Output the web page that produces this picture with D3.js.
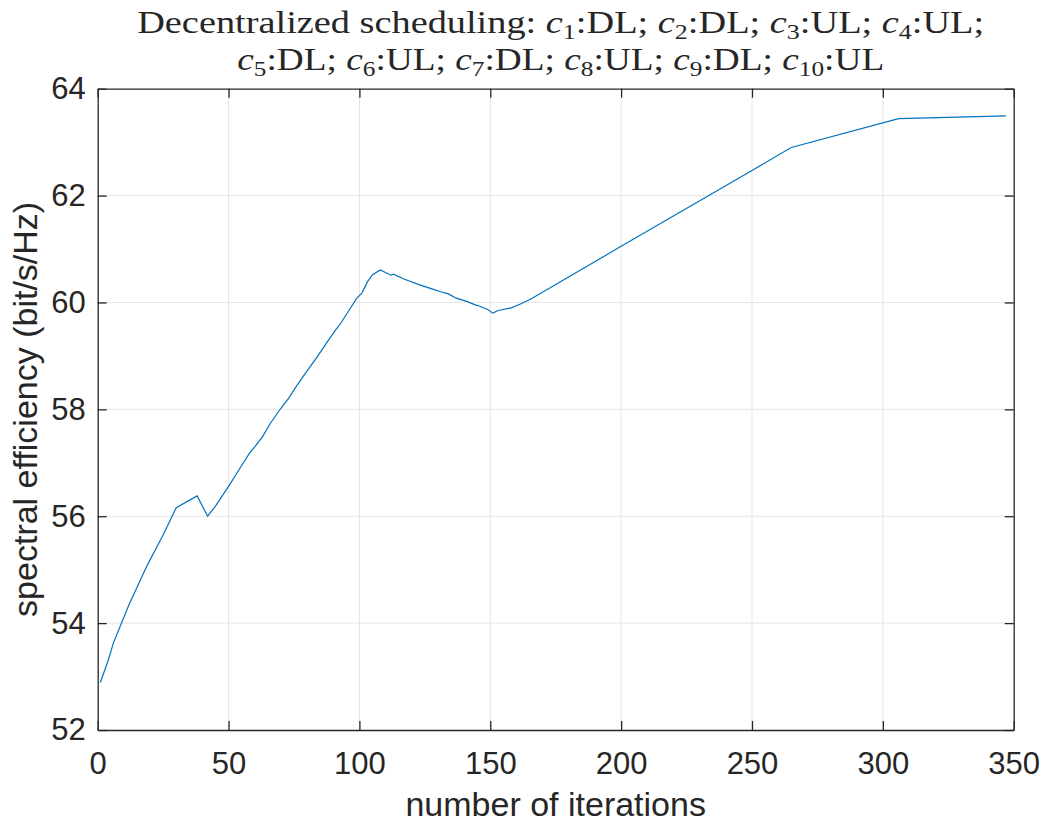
<!DOCTYPE html>
<html>
<head>
<meta charset="utf-8">
<script src="https://cdn.jsdelivr.net/npm/d3@7"></script>
<style>
  body { margin: 0; background: #fff; }
  text { fill: #262626; }
</style>
</head>
<body>
<div id="chart"></div>
<script>
// iterations and spectral efficiency
var iterations = [1, 4, 6, 12, 19, 25, 30, 38, 42, 45, 50, 54, 58, 60, 63, 66, 70, 73, 76, 79,
  84, 88, 91, 93, 96, 99, 101, 103, 105, 108, 110, 112, 113, 117, 123, 128, 131, 134, 137,
  141, 144, 146, 149, 151, 153, 158, 162, 166, 200, 250, 265, 306, 347]
var efficiency = [52.89, 53.30, 53.63, 54.35, 55.09, 55.65, 56.16, 56.38, 56.00, 56.19, 56.56,
  56.87, 57.18, 57.30, 57.49, 57.74, 58.02, 58.21, 58.44, 58.65, 58.99, 59.28, 59.49, 59.62,
  59.85, 60.08, 60.18, 60.38, 60.52, 60.61, 60.56, 60.51, 60.53, 60.44, 60.33, 60.25, 60.20,
  60.16, 60.08, 60.02, 59.96, 59.93, 59.87, 59.80, 59.85, 59.90, 59.98, 60.08, 61.05, 62.47,
  62.90, 63.44, 63.49]
var xTicks = [0, 50, 100, 150, 200, 250, 300, 350]
var yTicks = [52, 54, 56, 58, 60, 62, 64]

var width = 1044
    height = 831
    margin = {top: 88.7, right: 30.3, bottom: 101, left: 97.7}
var innerW = width - margin.left - margin.right
var innerH = height - margin.top - margin.bottom

var svg = d3.select("#chart")
  .append("svg")
    .attr("width", width)
    .attr("height", height)

var g = svg.append("g")
  .attr("transform", "translate(" + margin.left + "," + margin.top + ")")

var x = d3.scaleLinear().domain([0, 350]).range([0, innerW])
var y = d3.scaleLinear().domain([52, 64]).range([innerH, 0])

// grid
g.selectAll("xGrid")
  .data(xTicks.slice(1, -1))
  .enter()
  .append("line")
    .attr("x1", function(d){ return x(d) }).attr("x2", function(d){ return x(d) })
    .attr("y1", 0).attr("y2", innerH)
    .attr("stroke", "#e5e5e5").attr("stroke-width", 1)
g.selectAll("yGrid")
  .data(yTicks.slice(1, -1))
  .enter()
  .append("line")
    .attr("y1", function(d){ return y(d) }).attr("y2", function(d){ return y(d) })
    .attr("x1", 0).attr("x2", innerW)
    .attr("stroke", "#e5e5e5").attr("stroke-width", 1)

// the curve
var line = d3.line()
  .x(function(d, i){ return x(iterations[i]) })
  .y(function(d){ return y(d) })
g.append("path")
  .datum(efficiency)
  .attr("d", line)
  .attr("fill", "none")
  .attr("stroke", "#0072BD")
  .attr("stroke-width", 1.2)

// axes, ticks inward like matlab
var tickLen = 9
var xBottom = d3.axisBottom(x).tickValues(xTicks).tickSizeInner(-tickLen).tickSizeOuter(0).tickPadding(22)
var xTop = d3.axisTop(x).tickValues(xTicks).tickSizeInner(-tickLen).tickSizeOuter(0).tickFormat("")
var yLeft = d3.axisLeft(y).tickValues(yTicks).tickSizeInner(-tickLen).tickSizeOuter(0).tickPadding(12)
var yRight = d3.axisRight(y).tickValues(yTicks).tickSizeInner(-tickLen).tickSizeOuter(0).tickFormat("")

var axes = [
  g.append("g").attr("transform", "translate(0," + innerH + ")").call(xBottom),
  g.append("g").call(xTop),
  g.append("g").call(yLeft),
  g.append("g").attr("transform", "translate(" + innerW + ",0)").call(yRight)
]
axes.forEach(function(a) {
  a.select(".domain").attr("stroke", "#262626").attr("stroke-width", 1.3)
  a.selectAll(".tick line").attr("stroke", "#262626").attr("stroke-width", 1.3)
  a.selectAll("text")
    .style("font-family", "'Liberation Sans', Arial, sans-serif")
    .style("font-size", "31px")
    .attr("fill", "#262626")
})

// axis labels
svg.append("text")
  .attr("x", margin.left + innerW / 2)
  .attr("y", 816)
  .style("text-anchor", "middle")
  .style("font-family", "'Liberation Sans', Arial, sans-serif")
  .style("font-size", "34px")
  .text("number of iterations")

svg.append("text")
  .attr("transform", "translate(37," + (margin.top + innerH / 2) + ") rotate(-90)")
  .style("text-anchor", "middle")
  .style("font-family", "'Liberation Sans', Arial, sans-serif")
  .style("font-size", "34px")
  .text("spectral efficiency (bit/s/Hz)")

// title with subscripts, two lines
var titleLines = [
  [["Decentralized scheduling: "], ["c", "1"], [":DL; "], ["c", "2"], [":DL; "], ["c", "3"], [":UL; "], ["c", "4"], [":UL;"]],
  [["c", "5"], [":DL; "], ["c", "6"], [":UL; "], ["c", "7"], [":DL; "], ["c", "8"], [":UL; "], ["c", "9"], [":DL; "], ["c", "10"], [":UL"]]
]
var titleY = [33, 70]
var titleLen = [847, 647]
titleLines.forEach(function(parts, li) {
  var t = svg.append("text")
    .attr("x", margin.left + innerW / 2 + 5)
    .attr("y", titleY[li])
    .style("text-anchor", "middle")
    .style("font-family", "'Liberation Serif', 'DejaVu Serif', serif")
    .style("font-size", "31px")
    .attr("textLength", titleLen[li])
    .attr("lengthAdjust", "spacingAndGlyphs")
    .attr("xml:space", "preserve")
  var shifted = false
  parts.forEach(function(p) {
    if (p.length == 1) {
      t.append("tspan").attr("dy", shifted ? -6 : 0).text(p[0])
      shifted = false
    } else {
      t.append("tspan").attr("dy", shifted ? -6 : 0).style("font-style", "italic").text(p[0])
      t.append("tspan").attr("dy", 6).style("font-size", "21px").text(p[1])
      shifted = true
    }
  })
})
</script>
</body>
</html>
